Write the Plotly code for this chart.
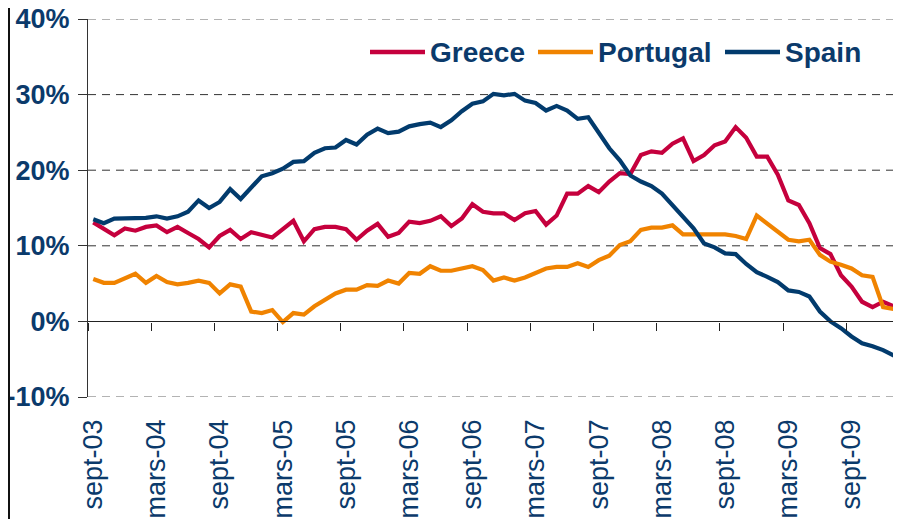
import plotly.graph_objects as go

# monthly series, sept-03 .. feb-10 (%)
greece = [
    13.1, 12.2, 11.4, 12.3, 12.0, 12.5, 12.7, 11.8, 12.5, 11.7, 10.9, 9.8,
    11.3, 12.1, 10.9, 11.8, 11.4, 11.1, 12.2, 13.3, 10.6, 12.2, 12.5, 12.5,
    12.2, 10.8, 12.0, 12.9, 11.2, 11.7, 13.2, 13.0, 13.3, 13.9, 12.6, 13.6,
    15.5, 14.5, 14.3, 14.3, 13.4, 14.3, 14.6, 12.8, 14.0, 16.9, 16.9, 17.9,
    17.1, 18.5, 19.6, 19.5, 22.0, 22.5, 22.3, 23.5, 24.2, 21.2, 22.0, 23.3,
    23.8, 25.7, 24.3, 21.8, 21.8, 19.4, 16.0, 15.4, 13.0, 9.7, 8.9, 6.1,
    4.6, 2.6, 1.9, 2.6, 2.0, 2.0,
]
portugal = [
    5.6, 5.1, 5.1, 5.7, 6.3, 5.1, 6.0, 5.2, 4.9, 5.1, 5.4, 5.1,
    3.7, 4.9, 4.6, 1.3, 1.1, 1.5, -0.1, 1.1, 0.9, 2.0, 2.9, 3.7,
    4.2, 4.2, 4.8, 4.7, 5.4, 5.0, 6.4, 6.3, 7.3, 6.7, 6.7, 7.0,
    7.3, 6.8, 5.4, 5.8, 5.4, 5.8, 6.4, 7.0, 7.2, 7.2, 7.7, 7.2,
    8.1, 8.7, 10.1, 10.6, 12.1, 12.4, 12.4, 12.7, 11.5, 11.5, 11.5, 11.5,
    11.5, 11.3, 10.9, 14.0, 12.9, 11.9, 10.8, 10.6, 10.8, 8.8, 7.9, 7.5,
    7.0, 6.1, 5.9, 1.9, 1.7, 1.4,
]
spain = [
    13.5, 13.0, 13.6, 13.6, 13.6, 13.7, 13.9, 13.6, 13.9, 14.5, 16.0, 15.0,
    15.8, 17.5, 16.2, 17.8, 19.2, 19.6, 20.2, 21.1, 21.2, 22.3, 22.9, 23.0,
    24.0, 23.4, 24.7, 25.5, 24.9, 25.1, 25.8, 26.1, 26.3, 25.7, 26.6, 27.8,
    28.8, 29.1, 30.1, 29.9, 30.1, 29.2, 28.9, 27.9, 28.5, 27.9, 26.8, 27.0,
    24.9, 22.9, 21.3, 19.3, 18.5, 17.9, 16.9, 15.4, 13.8, 12.3, 10.3, 9.8,
    9.0, 8.9, 7.6, 6.5, 5.9, 5.2, 4.1, 3.9, 3.3, 1.3, 0.0, -0.9,
    -2.0, -2.9, -3.3, -3.8, -4.5, -4.6,
]

month_names = ["janv", "févr", "mars", "avr", "mai", "juin",
               "juil", "août", "sept", "oct", "nov", "déc"]
start_year, start_month = 2003, 9
y_ticks = [-10, 0, 10, 20, 30, 40]
y_labels = [f"{v}%" for v in y_ticks]

months = []
for k in range(len(spain)):
    m = start_month - 1 + k
    months.append(f"{month_names[m % 12]}-{(start_year + m // 12) % 100:02d}")

NAVY = "#0B3A6B"
FONT = "Liberation Sans, Arial, sans-serif"

# page body has an 8px margin, so the figure is drawn 8px in from the corner
W, H = 893, 511
L, T, B = 80, 11, 122
PW, PH = W - L, H - T - B
y0_frac = (0 - y_ticks[0]) / (y_ticks[-1] - y_ticks[0])

series = [
    ("Greece", greece, "#C5003D"),
    ("Portugal", portugal, "#F08300"),
    ("Spain", spain, "#023B6D"),
]
# legend swatch left edges (figure px)
legend_x = [362, 530, 717]
legend_y = 1 - (44 - T) / PH

fig = go.Figure()
shapes = [
    dict(
        type="line", xref="paper", yref="paper",
        x0=-(L - 1) / PW, x1=-(L - 1) / PW,
        y0=-B / PH, y1=1 + T / PH,
        line=dict(color="#111", width=2),
    )
]
# dashed gridlines (drawn as shapes so the ones on the plot edges stay)
for v in y_ticks:
    if v == 0:
        continue
    shapes.append(
        dict(
            type="line", xref="paper", yref="y", layer="below",
            x0=0, x1=0.995, y0=v, y1=v,
            line=dict(color="#666" if v in (40, -10) else "#333",
                      width=1, dash="8px,6px"),
        )
    )

annotations = []
for (name, values, color), lx in zip(series, legend_x):
    fig.add_trace(
        go.Scatter(
            x=months,
            y=values,
            name=name,
            mode="lines",
            line=dict(color=color, width=4.2),
            showlegend=False,
        )
    )
    shapes.append(
        dict(
            type="line", xref="paper", yref="paper",
            x0=(lx - L) / PW, x1=(lx + 55 - L) / PW,
            y0=legend_y, y1=legend_y,
            line=dict(color=color, width=4.6),
        )
    )
    annotations.append(
        dict(
            text=name, xref="paper", yref="paper",
            x=(lx + 58 - L) / PW, y=legend_y,
            xanchor="left", yanchor="middle", showarrow=False,
            font=dict(size=28, color=NAVY, family=FONT, weight="bold"),
        )
    )

# empty trace so the zero-line axis (tick marks at 0%) gets drawn
fig.add_trace(go.Scatter(x=[], y=[], xaxis="x2", showlegend=False))

fig.update_layout(
    width=W,
    height=H,
    margin=dict(l=L, r=W - L - 813, t=T, b=B),
    plot_bgcolor="white",
    paper_bgcolor="white",
    font=dict(family=FONT, color=NAVY),
    showlegend=False,
    xaxis=dict(
        type="category",
        range=[-0.5, 76.7],
        tickmode="linear",
        tick0=0,
        dtick=6,
        tickangle=-90,
        ticks="",
        showline=False,
        showgrid=False,
        zeroline=False,
        automargin=False,
        ticklabelstandoff=16,
        tickfont=dict(size=27, color=NAVY, family=FONT),
    ),
    xaxis2=dict(
        overlaying="x",
        anchor="free",
        position=y0_frac,
        range=[-0.5, 76.7],
        tickmode="linear",
        tick0=-0.5,
        dtick=6,
        ticks="outside",
        ticklen=8,
        tickwidth=1.2,
        tickcolor="#222",
        showline=True,
        linecolor="#222",
        linewidth=1.2,
        showticklabels=False,
        showgrid=False,
        zeroline=False,
        automargin=False,
    ),
    yaxis=dict(
        range=[y_ticks[0], y_ticks[-1]],
        tickmode="array",
        tickvals=y_ticks,
        ticktext=y_labels,
        showline=True,
        linecolor="#333",
        linewidth=1,
        ticks="outside",
        ticklen=9,
        tickcolor="#333",
        showgrid=False,
        zeroline=False,
        automargin=False,
        ticklabelstandoff=3,
        ticklabeloverflow="allow",
        tickfont=dict(size=27, color=NAVY, family=FONT, weight="bold"),
    ),
    shapes=shapes,
    annotations=annotations,
)

fig.write_html("out.html")
